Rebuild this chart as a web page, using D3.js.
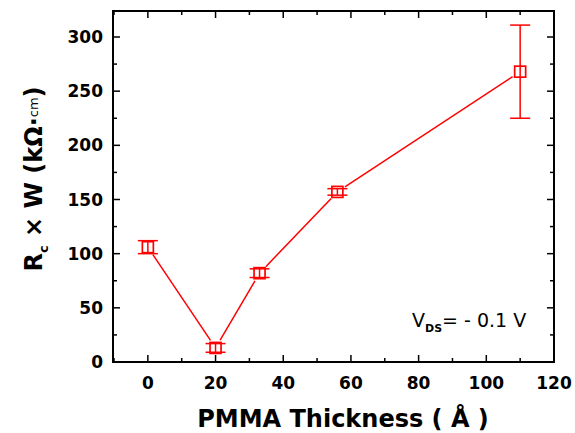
<!DOCTYPE html>
<html>
<head>
<meta charset="utf-8">
<script src="https://cdn.jsdelivr.net/npm/d3@7"></script>
<style>
  body { margin: 0; background: #fff; }
  text { font-family: "DejaVu Sans", Arial, sans-serif; }
</style>
</head>
<body>
<div id="chart"></div>
<script>
// data
var thickness = [0, 20, 33, 56, 110];
var rcw = [106, 13, 82, 157, 268];
var rcwErr = [6, 4, 4, 3, 43];
var xTicks = [0, 20, 40, 60, 80, 100, 120];
var yTicks = [0, 50, 100, 150, 200, 250, 300];

var width = 575, height = 433;
var margin = {top: 11, right: 21, bottom: 71, left: 113};
var red = '#ff0000';

var svg = d3.select('#chart').append('svg')
  .attr('width', width)
  .attr('height', height);

var x = d3.scaleLinear().domain([-10.3, 120]).range([margin.left, width - margin.right]);
var y = d3.scaleLinear().domain([0, 324]).range([height - margin.bottom, margin.top]);

var x0 = margin.left, x1 = width - margin.right;
var y0 = height - margin.bottom, y1 = margin.top;

// minor ticks halfway between majors
var xMinor = d3.range(-10, 121, 10).filter(function(v) { return xTicks.indexOf(v) < 0; });
var yMinor = d3.range(25, 324, 50);

function tickSet(g, isX, vals, len) {
  vals.forEach(function(v) {
    if (isX) {
      g.append('line').attr('x1', x(v)).attr('x2', x(v)).attr('y1', y0).attr('y2', y0 - len);
      g.append('line').attr('x1', x(v)).attr('x2', x(v)).attr('y1', y1).attr('y2', y1 + len);
    } else {
      g.append('line').attr('y1', y(v)).attr('y2', y(v)).attr('x1', x0).attr('x2', x0 + len);
      g.append('line').attr('y1', y(v)).attr('y2', y(v)).attr('x1', x1).attr('x2', x1 - len);
    }
  });
}

var ticks = svg.append('g').attr('stroke', '#000').attr('stroke-width', 1.5);
tickSet(ticks, true, xTicks, 7);
tickSet(ticks, true, xMinor, 4);
tickSet(ticks, false, yTicks, 7);
tickSet(ticks, false, yMinor, 4);

// frame
svg.append('rect')
  .attr('x', x0).attr('y', y1)
  .attr('width', x1 - x0).attr('height', y0 - y1)
  .attr('fill', 'none').attr('stroke', '#000').attr('stroke-width', 2);

// tick labels
svg.append('g').selectAll('text').data(xTicks).enter().append('text')
  .attr('x', function(d) { return x(d); })
  .attr('y', 389)
  .attr('text-anchor', 'middle')
  .style('font-size', '17px').style('font-weight', 'bold')
  .text(function(d) { return d; });

svg.append('g').selectAll('text').data(yTicks).enter().append('text')
  .attr('x', 103)
  .attr('y', function(d) { return y(d) + 6; })
  .attr('text-anchor', 'end')
  .style('font-size', '17px').style('font-weight', 'bold')
  .text(function(d) { return d; });

// axis titles
svg.append('text')
  .attr('x', 343).attr('y', 427)
  .attr('text-anchor', 'middle')
  .style('font-size', '24px').style('font-weight', 'bold')
  .text('PMMA Thickness ( Å )');

var yt = svg.append('text')
  .attr('transform', 'translate(42,179) rotate(-90)')
  .attr('text-anchor', 'middle')
  .style('font-size', '24px').style('font-weight', 'bold');
yt.append('tspan').text('R');
yt.append('tspan').attr('dy', 6).style('font-size', '13px').text('c');
yt.append('tspan').attr('dy', -6).text(' × W (kΩ·');
yt.append('tspan').style('font-size', '13px').style('font-weight', 'normal').attr('dy', -4).text('cm');
yt.append('tspan').attr('dy', 4).text(')');

// annotation
var vt = svg.append('text')
  .attr('x', 412).attr('y', 327)
  .style('font-size', '19px');
vt.append('tspan').text('V');
vt.append('tspan').attr('dy', 5).style('font-size', '11px').style('font-weight', 'bold').text('DS');
vt.append('tspan').attr('dy', -5).text('= - 0.1 V');

// data
var pts = thickness.map(function(t, i) {
  return {x: t, y: rcw[i], e: rcwErr[i]};
});

// connecting lines with gaps at the markers
var gap = 9;
var segs = svg.append('g').attr('stroke', red).attr('stroke-width', 1.5);
for (var i = 0; i < pts.length - 1; i++) {
  var ax = x(pts[i].x), ay = y(pts[i].y);
  var bx = x(pts[i + 1].x), by = y(pts[i + 1].y);
  var len = Math.sqrt((bx - ax) * (bx - ax) + (by - ay) * (by - ay));
  var ux = (bx - ax) / len, uy = (by - ay) / len;
  segs.append('line')
    .attr('x1', ax + ux * gap).attr('y1', ay + uy * gap)
    .attr('x2', bx - ux * gap).attr('y2', by - uy * gap);
}

// error bars
var eb = svg.append('g').attr('stroke', red).attr('stroke-width', 1.5);
pts.forEach(function(d) {
  var cx = x(d.x);
  eb.append('line').attr('x1', cx).attr('x2', cx).attr('y1', y(d.y - d.e)).attr('y2', y(d.y + d.e));
  [d.y - d.e, d.y + d.e].forEach(function(v) {
    eb.append('line').attr('x1', cx - 10).attr('x2', cx + 10).attr('y1', y(v)).attr('y2', y(v));
  });
});

// markers
var ms = 11;
svg.append('g').selectAll('rect').data(pts).enter().append('rect')
  .attr('x', function(d) { return x(d.x) - ms / 2; })
  .attr('y', function(d) { return y(d.y) - ms / 2; })
  .attr('width', ms).attr('height', ms)
  .attr('fill', 'none')
  .attr('stroke', red)
  .attr('stroke-width', 1.7);
</script>
</body>
</html>
